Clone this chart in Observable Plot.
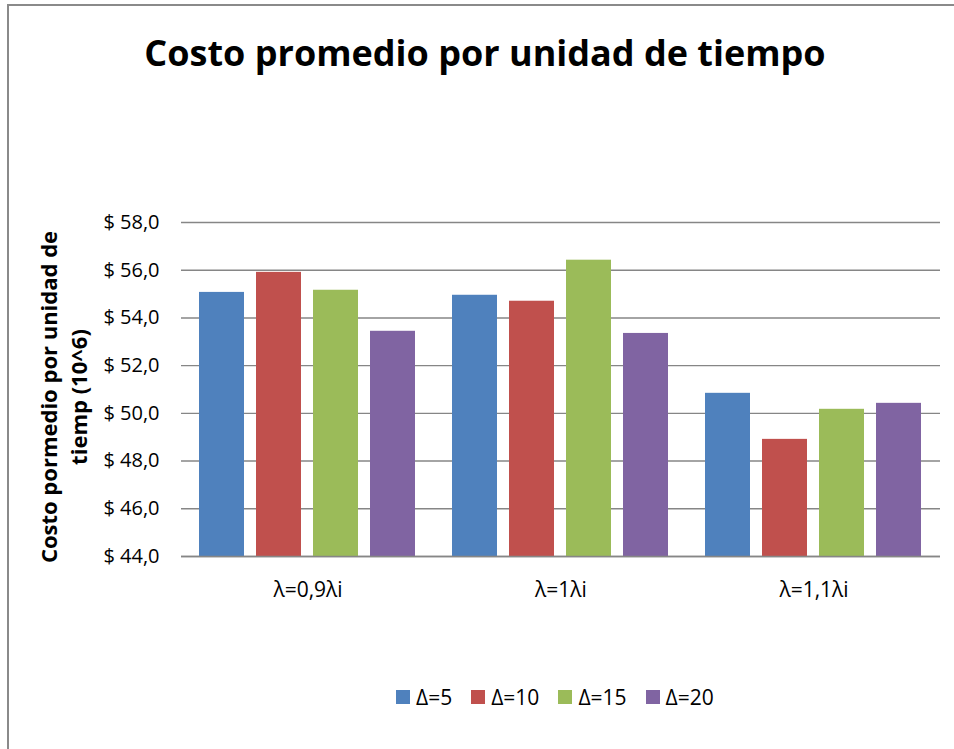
<!DOCTYPE html>
<html>
<head>
<meta charset="utf-8">
<script src="https://cdn.jsdelivr.net/npm/d3@7"></script>
<script src="https://cdn.jsdelivr.net/npm/@observablehq/plot@0.6"></script>
<style>
  html, body { margin: 0; padding: 0; background: #fff; overflow: hidden; }
  #wrap { position: relative; width: 954px; height: 749px; overflow: hidden; font-family: "Open Sans", sans-serif; }
  #frame { position: absolute; left: 7px; top: 4px; width: 1000px; height: 800px; border-left: 2px solid #8a8a8a; border-top: 2px solid #8a8a8a; }
  #title { position: absolute; left: 485px; top: 28px; transform: translateX(-50%); white-space: nowrap; font-weight: 700; font-size: 36px; color: #000; }
  #ytitle { position: absolute; left: 63px; top: 397px; transform: translate(-50%, -50%) rotate(-90deg); white-space: nowrap; text-align: center; font-weight: 700; font-size: 22px; line-height: 30px; color: #000; }
  #legend { position: absolute; left: 396px; top: 683px; display: flex; align-items: center; gap: 19px; font-size: 21px; color: #000; }
  #legend .item { display: flex; align-items: center; gap: 6px; }
  #legend .sw { width: 14px; height: 14px; display: inline-block; }
  #chart { position: absolute; left: 0; top: 0; }
</style>
</head>
<body>
<div id="wrap">
  <div id="frame"></div>
  <div id="chart"></div>
  <div id="title"></div>
  <div id="ytitle"></div>
  <div id="legend"></div>
</div>
<script>
const titleText = "Costo promedio por unidad de tiempo";
const yTitleLines = ["Costo pormedio por unidad de", "tiemp (10^6)"];
const groups = ["λ=0,9λi", "λ=1λi", "λ=1,1λi"];
const series = ["Δ=5", "Δ=10", "Δ=15", "Δ=20"];
const colors = ["#4F81BD", "#C0504D", "#9BBB59", "#8064A2"];
const valuesD5  = [55.07, 54.95, 50.84];
const valuesD10 = [55.91, 54.70, 48.91];
const valuesD15 = [55.16, 56.42, 50.17];
const valuesD20 = [53.44, 53.35, 50.42];
const yTicks = [44, 46, 48, 50, 52, 54, 56, 58];

const seriesValues = [valuesD5, valuesD10, valuesD15, valuesD20];
const data = [];
groups.forEach((g, gi) => series.forEach((s, si) => data.push({group: g, series: s, value: seriesValues[si][gi]})));

const yMin = d3.min(yTicks), yMax = d3.max(yTicks);
const fmt = d => "$ " + d.toFixed(1).replace(".", ",");
const FONT = "'Open Sans', sans-serif";

const chart = Plot.plot({
  width: 954,
  height: 749,
  marginTop: 222,
  marginBottom: 193,
  marginLeft: 180,
  marginRight: 13,
  style: {background: "transparent", color: "#000"},
  fx: {domain: groups, padding: 0, label: null},
  x: {domain: series, paddingInner: 0.207, paddingOuter: 0.285, axis: null},
  y: {domain: [yMin, yMax], label: null},
  color: {domain: series, range: colors},
  marks: [
    Plot.gridY(yTicks, {stroke: "#868686", strokeOpacity: 1, strokeWidth: 1.4}),
    Plot.barY(data, {fx: "group", x: "series", y1: yMin, y2: "value", fill: "series"}),
    Plot.ruleY([yMin], {stroke: "#868686", strokeWidth: 1.4}),
    Plot.axisY(yTicks, {tickFormat: fmt, tickSize: 0, tickPadding: 22, fontSize: 20, fontFamily: FONT, fill: "#000", label: null}),
    Plot.axisFx({anchor: "bottom", tickSize: 0, tickPadding: 26, fontSize: 21, fontFamily: FONT, fill: "#000", label: null})
  ]
});
document.getElementById("chart").appendChild(chart);

document.getElementById("title").textContent = titleText;
document.getElementById("ytitle").innerHTML = yTitleLines.map(l => `<div>${l}</div>`).join("");
const legend = document.getElementById("legend");
series.forEach((s, i) => {
  const item = document.createElement("div");
  item.className = "item";
  item.innerHTML = `<span class="sw" style="background:${colors[i]}"></span><span>${s}</span>`;
  legend.appendChild(item);
});
</script>
</body>
</html>
